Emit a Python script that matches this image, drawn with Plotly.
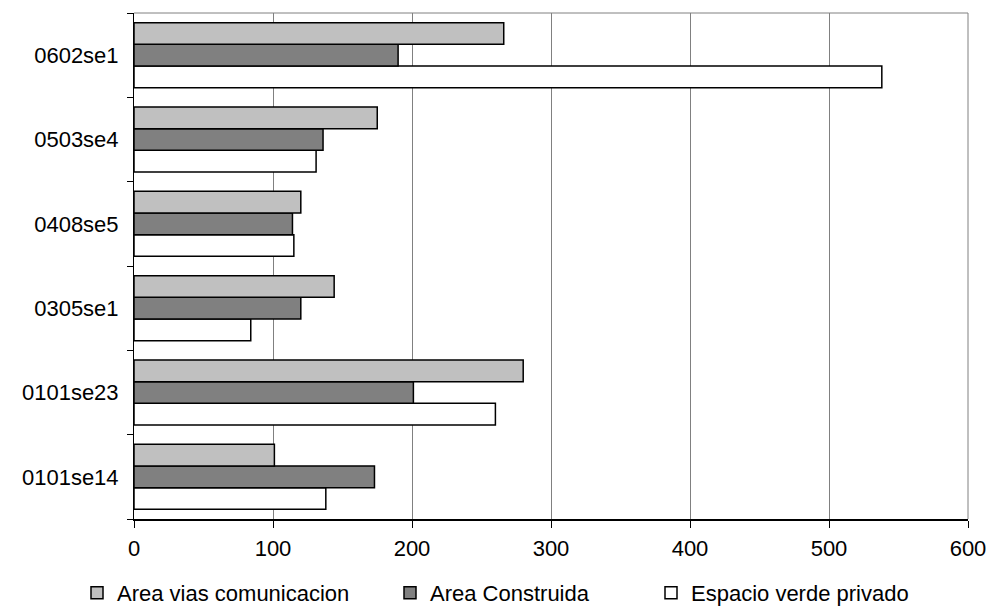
import plotly.graph_objects as go

categories = ["0101se14", "0101se23", "0305se1", "0408se5", "0503se4", "0602se1"]
area_vias = [101, 280, 144, 120, 175, 266]
area_construida = [173, 201, 120, 114, 136, 190]
espacio_verde = [138, 260, 84, 115, 131, 538]

names = ["Area vias comunicacion", "Area Construida", "Espacio verde privado"]
colors = ["#c0c0c0", "#808080", "#ffffff"]
x_ticks = [0, 100, 200, 300, 400, 500, 600]

font_family = "Liberation Sans, Arial, sans-serif"
FS = 22
fig = go.Figure()

series = [espacio_verde, area_construida, area_vias]
snames = [names[2], names[1], names[0]]
scolors = [colors[2], colors[1], colors[0]]
legends = ["legend3", "legend2", "legend"]
for vals, nm, col, lg in zip(series, snames, scolors, legends):
    fig.add_trace(go.Bar(
        y=categories, x=vals, name=nm, orientation="h",
        marker=dict(color=col, line=dict(color="#000000", width=1.5)),
        legend=lg,
    ))

W, H = 991, 608
ml, mr, mt, mb = 134, 23, 13, 89

legend_common = dict(orientation="h", yanchor="middle", y=1 - 593 / H, xanchor="left",
                     xref="container", yref="container",
                     font=dict(family=font_family, size=FS, color="#000000"),
                     bgcolor="rgba(0,0,0,0)", borderwidth=0)

fig.update_layout(
    width=W, height=H,
    margin=dict(l=ml, r=mr, t=mt, b=mb),
    paper_bgcolor="#ffffff", plot_bgcolor="#ffffff",
    barmode="group", bargap=0.23, bargroupgap=0,
    font=dict(family=font_family, size=FS, color="#000000"),
    showlegend=True,
    legend=dict(x=(98 - 21) / W, **legend_common),
    legend2=dict(x=(411 - 21) / W, **legend_common),
    legend3=dict(x=(672 - 21) / W, **legend_common),
    xaxis=dict(range=[0, 600], tickvals=x_ticks, ticktext=[str(v) for v in x_ticks],
               showgrid=True, gridcolor="#808080", gridwidth=1,
               showline=True, linecolor="#000000", linewidth=2,
               ticks="outside", ticklen=7, tickcolor="#000000",
               ticklabelstandoff=2, zeroline=False, automargin=False,
               tickfont=dict(family=font_family, size=FS, color="#000000")),
    yaxis=dict(type="category", categoryorder="array", categoryarray=categories,
               showgrid=False, showline=True, linecolor="#000000", linewidth=1,
               ticks="outside", ticklen=6, tickcolor="#000000", tickson="boundaries",
               ticklabelstandoff=10, automargin=False,
               tickfont=dict(family=font_family, size=FS, color="#000000")),
    shapes=[
        dict(type="line", xref="paper", yref="paper", x0=0, x1=1, y0=1, y1=1,
             line=dict(color="#808080", width=1)),
        dict(type="line", xref="paper", yref="paper", x0=1, x1=1, y0=0, y1=1,
             line=dict(color="#808080", width=1)),
    ],
)

fig.write_html("out.html", config={"displayModeBar": False},
               post_script="document.body.style.margin='0';document.body.style.overflow='hidden';")
